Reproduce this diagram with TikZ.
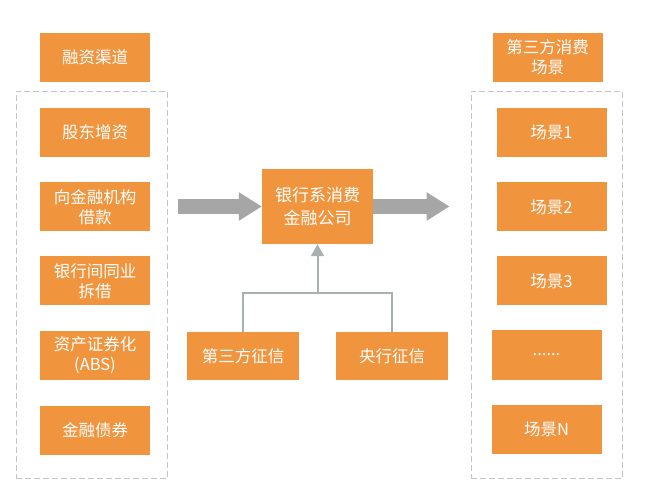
\documentclass[tikz,border=0pt]{standalone}
\usepackage{fontspec}
\setmainfont{Noto Sans CJK SC}
\usetikzlibrary{arrows.meta}
\definecolor{boxorange}{RGB}{240,148,62}
\definecolor{bigarrowgray}{RGB}{166,166,166}
\definecolor{linkgray}{RGB}{168,176,176}
\definecolor{framegray}{RGB}{196,196,196}
\begin{document}
\begin{tikzpicture}[x=1pt, y=-1pt,
  card/.style={fill=boxorange, text=white, align=center, inner sep=0pt,
    minimum width=110pt, minimum height=49pt,
    font=\fontsize{16.5pt}{20pt}\selectfont},
  group/.style={draw=framegray, line width=0.9pt, dash pattern=on 6pt off 3pt,
    minimum width=151pt, minimum height=387pt, inner sep=0pt},
  bigarrow/.style={draw=bigarrowgray, line width=15pt,
    -{Triangle[width=27pt, length=23pt]}},
  link/.style={draw=linkgray, line width=2pt}]
  \useasboundingbox[fill=white] (0,0) rectangle (645,502);
  % left column
  \node[group] (srcgroup) at (91.5,285) {};
  \node[card] (src) at (95,57.5) {融资渠道};
  \node[card] (gd) at (95,132.5) {股东增资};
  \node[card] (jk) at (95,207) {向金融机构\\借款};
  \node[card] (cj) at (95,281) {银行间同业\\拆借};
  \node[card] (abs) at (95,355.5) {资产证券化\\(ABS)};
  \node[card] (zq) at (95,430) {金融债券};
  % centre
  \node[card, minimum width=111pt, minimum height=75pt,
    font=\fontsize{17pt}{23pt}\selectfont] (ctr) at (317.5,206.5) {银行系消费\\金融公司};
  \node[card, minimum width=112pt, minimum height=48pt] (zx) at (243,356) {第三方征信};
  \node[card, minimum width=112pt, minimum height=48pt] (yh) at (392,356) {央行征信};
  % right column
  \node[group] (scngroup) at (546.5,285) {};
  \node[card] (scn) at (547.5,57.5) {第三方消费\\场景};
  \node[card] (s1) at (551.5,132.5) {场景1};
  \node[card] (s2) at (551.5,207) {场景2};
  \node[card] (s3) at (551.5,281) {场景3};
  \node[card] (sx) at (546.5,355) {......};
  \node[card] (sn) at (546.5,429.5) {场景N};
  % connectors
  \draw[bigarrow] ([xshift=11pt]srcgroup.east |- ctr.west) -- (ctr.west);
  \draw[bigarrow] (ctr.east) -- ([xshift=-21pt]scngroup.west |- ctr.east);
  \coordinate (join) at (317.5,293);
  \draw[link] (zx.north) |- (join) -| (yh.north);
  \draw[link, -{Triangle[width=13pt, length=12pt]}, linkgray] (join) -- (ctr.south);
\end{tikzpicture}
\end{document}
